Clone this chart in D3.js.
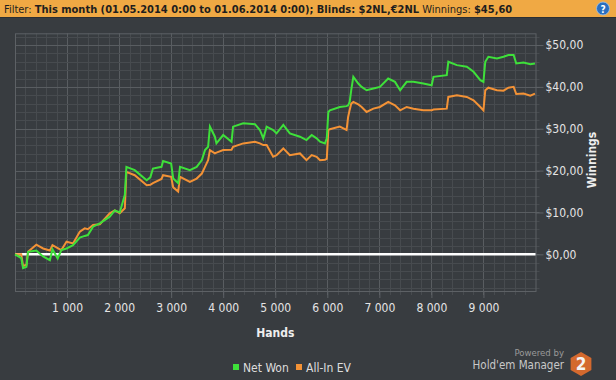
<!DOCTYPE html>
<html>
<head>
<meta charset="utf-8">
<script src="https://cdn.jsdelivr.net/npm/d3@7"></script>
<style>
  body { margin: 0; background: #383c40; }
  svg { display: block; }
  text { font-family: "DejaVu Sans Condensed", "DejaVu Sans", sans-serif; font-stretch: condensed; }
</style>
</head>
<body>
<div id="chart"></div>
<script>
// データ
var hands = [0, 120, 155, 220, 250, 410, 540, 670, 720, 820, 890, 990, 1115, 1245, 1340, 1400, 1500, 1630, 1820, 1917,
    2013, 2110, 2140, 2300, 2530, 2600, 2650, 2815, 2845, 3000, 3040, 3135, 3170, 3360, 3490, 3590, 3650, 3710, 3745, 3840,
    3870, 4000, 4160, 4190, 4385, 4610, 4705, 4770, 4835, 4960, 5025, 5155, 5280, 5475, 5600, 5700, 5795, 5860, 5955, 5990,
    6020, 6050, 6240, 6370, 6400, 6430, 6460, 6500, 6595, 6660, 6755, 6885, 7010, 7170, 7300, 7400, 7525, 7655, 7845, 8005,
    8040, 8295, 8325, 8490, 8680, 8810, 8940, 9000, 9035, 9095, 9260, 9385, 9480, 9580, 9630, 9770, 9900, 9990];
var netWon = [0, -0.9, -3.3, -3.0, 0.6, 0.9, -0.5, -1.4, 1.2, -1.0, 1.0, 1.4, 2.2, 4.0, 4.4, 4.6, 6.6, 7.4, 9.0, 10.5,
    10.0, 14.2, 20.9, 20.1, 17.7, 18.4, 20.5, 20.9, 22.3, 21.7, 18.1, 17.0, 20.9, 20.1, 20.9, 22.5, 24.9, 25.7, 30.5, 28.1,
    26.5, 28.5, 26.9, 30.5, 31.3, 31.1, 29.7, 27.7, 30.5, 29.7, 28.9, 30.9, 28.9, 28.1, 27.3, 28.5, 27.7, 26.9, 26.5, 27.7,
    34.0, 34.4, 35.2, 35.4, 35.6, 36.4, 39.2, 42.4, 40.8, 40.0, 39.2, 39.6, 40.0, 42.0, 41.2, 39.2, 41.2, 41.2, 40.8, 40.4,
    42.4, 42.8, 46.0, 45.2, 44.8, 43.6, 41.6, 41.2, 46.0, 47.2, 46.8, 47.2, 47.6, 47.6, 45.6, 45.8, 45.4, 45.6];
var allInEV = [0, 0, -2.8, -2.5, 0.6, 2.3, 1.4, 0.9, 2.2, 1.5, 1.0, 3.0, 2.6, 5.4, 6.2, 6.0, 7.0, 7.2, 9.8, 10.5,
    9.8, 11.0, 19.7, 18.9, 16.5, 16.6, 17.0, 18.0, 18.9, 18.5, 16.0, 15.0, 18.5, 17.3, 18.1, 19.3, 20.9, 22.5, 24.9, 24.1,
    24.3, 24.9, 25.0, 25.7, 26.5, 26.9, 26.5, 26.1, 26.1, 23.3, 23.7, 25.3, 23.7, 24.1, 22.5, 23.7, 23.3, 22.5, 22.6, 22.8,
    29.7, 29.9, 30.5, 29.7, 32.8, 34.5, 36.0, 36.4, 35.8, 35.2, 34.0, 34.8, 35.2, 36.4, 35.6, 34.4, 35.2, 34.8, 34.4, 34.4,
    34.6, 34.8, 37.6, 38.0, 37.6, 36.8, 35.2, 34.4, 39.2, 39.8, 39.2, 39.1, 39.8, 40.0, 38.3, 38.4, 37.9, 38.4];
var xTicks = [1000, 2000, 3000, 4000, 5000, 6000, 7000, 8000, 9000];
var yTicks = [0, 10, 20, 30, 40, 50];
var seriesNames = ["Net Won", "All-In EV"];
var seriesColors = ["#3ee03a", "#f39236"];

var width = 616;
var height = 380;
var plot = { left: 15, right: 535.5, top: 33.3, bottom: 291 };

var svg = d3.select("#chart")
    .append("svg")
    .attr("width", width)
    .attr("height", height);

svg.append("rect")
    .attr("width", width)
    .attr("height", height)
    .attr("fill", "#383c40");

// フィルターバー
svg.append("rect")
    .attr("width", width)
    .attr("height", 17)
    .attr("fill", "#f0a944");
svg.append("rect")
    .attr("y", 17)
    .attr("width", width)
    .attr("height", 1)
    .attr("fill", "#2c2f32");

var filter = svg.append("text")
    .attr("x", 4)
    .attr("y", 12.5)
    .style("font-size", "11px")
    .attr("fill", "#1e1e1e");
filter.append("tspan").text("Filter: ");
filter.append("tspan").style("font-weight", "bold").text("This month (01.05.2014 0:00 to 01.06.2014 0:00); Blinds: $2NL,€2NL");
filter.append("tspan").text(" Winnings: ");
filter.append("tspan").style("font-weight", "bold").text("$45,60");

var help = svg.append("g").attr("transform", "translate(603,8.5)");
help.append("circle").attr("r", 6.5).attr("fill", "#2a6fc0").attr("stroke", "#9cc3ee").attr("stroke-width", 0.8);
help.append("text")
    .attr("y", 4)
    .attr("text-anchor", "middle")
    .style("font-size", "10px")
    .style("font-weight", "bold")
    .attr("fill", "#fff")
    .text("?");

// スケール
var xScale = d3.scaleLinear()
    .domain([0, 10000])
    .range([plot.left, plot.right]);
var yScale = d3.scaleLinear()
    .domain([-8.76, 52.8])
    .range([plot.bottom, plot.top]);

// グリッド
var grid = svg.append("g");
grid.selectAll("line.vx")
    .data(d3.range(200, 10000, 200))
    .enter()
    .append("line")
    .attr("x1", function (d) { return Math.round(xScale(d)) + 0.5; })
    .attr("x2", function (d) { return Math.round(xScale(d)) + 0.5; })
    .attr("y1", plot.top)
    .attr("y2", plot.bottom + 4)
    .attr("stroke", function (d) { return d % 1000 == 0 ? "#595d61" : "#474b4f"; })
    .attr("stroke-width", 1);
grid.selectAll("line.hy")
    .data(d3.range(-8, 53, 2))
    .enter()
    .append("line")
    .attr("x1", plot.left)
    .attr("x2", plot.right + 4)
    .attr("y1", function (d) { return Math.round(yScale(d)) + 0.5; })
    .attr("y2", function (d) { return Math.round(yScale(d)) + 0.5; })
    .attr("stroke", function (d) { return d % 10 == 0 ? "#595d61" : "#474b4f"; })
    .attr("stroke-width", 1);

svg.append("rect")
    .attr("x", plot.left + 0.5)
    .attr("y", plot.top + 0.5)
    .attr("width", plot.right - plot.left)
    .attr("height", plot.bottom - plot.top)
    .attr("fill", "none")
    .attr("stroke", "#5d6165");

// X 軸
var xAxis = d3.axisBottom(xScale)
    .tickValues(xTicks)
    .tickSize(7)
    .tickFormat(function (d) { return d3.format(",")(d).replace(/,/g, " "); });
var gx = svg.append("g")
    .attr("transform", "translate(0," + plot.bottom + ")")
    .call(xAxis);
gx.select(".domain").remove();
gx.selectAll(".tick line").attr("stroke", "#5d6165");
gx.selectAll(".tick text")
    .attr("y", 12)
    .style("font-size", "12px")
    .attr("fill", "#e4e4e4");

// Y 軸
var yAxis = d3.axisRight(yScale)
    .tickValues(yTicks)
    .tickSize(8)
    .tickFormat(function (d) { return "$" + d3.format(".2f")(d).replace(".", ","); });
var gy = svg.append("g")
    .attr("transform", "translate(" + plot.right + ",0)")
    .call(yAxis);
gy.select(".domain").remove();
gy.selectAll(".tick line").attr("stroke", "#5d6165");
gy.selectAll(".tick text")
    .attr("x", 10)
    .style("font-size", "12px")
    .attr("fill", "#e4e4e4");

svg.append("text")
    .attr("x", (plot.left + plot.right) / 2)
    .attr("y", 337)
    .attr("text-anchor", "middle")
    .style("font-size", "12px")
    .style("font-weight", "bold")
    .attr("fill", "#eeeeee")
    .text("Hands");

svg.append("text")
    .attr("transform", "translate(596,160) rotate(-90)")
    .attr("text-anchor", "middle")
    .style("font-size", "12px")
    .style("font-weight", "bold")
    .attr("fill", "#eeeeee")
    .text("Winnings");

// ゼロライン
svg.append("line")
    .attr("x1", plot.left)
    .attr("x2", plot.right)
    .attr("y1", yScale(0))
    .attr("y2", yScale(0))
    .attr("stroke", "#ffffff")
    .attr("stroke-width", 2.5);

// 折れ線
var series = [allInEV, netWon];
var colors = [seriesColors[1], seriesColors[0]];
var line = d3.line()
    .x(function (d, i) { return xScale(hands[i]); })
    .y(function (d) { return yScale(d); });
svg.append("g")
    .selectAll("path")
    .data(series)
    .enter()
    .append("path")
    .attr("d", function (d) { return line(d); })
    .attr("fill", "none")
    .attr("stroke", function (d, i) { return colors[i]; })
    .attr("stroke-width", 2)
    .attr("stroke-linejoin", "miter");

// 凡例
var legendX = [233, 296];
var legend = svg.append("g")
    .selectAll("g")
    .data(seriesNames)
    .enter()
    .append("g")
    .attr("transform", function (d, i) { return "translate(" + legendX[i] + ",364)"; });
legend.append("rect")
    .attr("width", 6)
    .attr("height", 6)
    .attr("fill", function (d, i) { return seriesColors[i]; });
legend.append("text")
    .attr("x", 10)
    .attr("y", 8)
    .style("font-size", "12px")
    .attr("fill", "#dddddd")
    .text(function (d) { return d; });

// ロゴ
svg.append("text")
    .attr("x", 564)
    .attr("y", 356)
    .attr("text-anchor", "end")
    .style("font-size", "9.5px")
    .attr("fill", "#9a9a9a")
    .text("Powered by");
svg.append("text")
    .attr("x", 564)
    .attr("y", 369)
    .attr("text-anchor", "end")
    .style("font-size", "11.5px")
    .attr("fill", "#c8c8c8")
    .text("Hold'em Manager");
var hex = d3.range(6).map(function (i) {
    var a = Math.PI / 3 * i - Math.PI / 2;
    return [581 + 12 * Math.cos(a), 364 + 12 * Math.sin(a)];
});
svg.append("polygon")
    .attr("points", hex.map(function (p) { return p.join(","); }).join(" "))
    .attr("fill", "#d4692e");
svg.append("text")
    .attr("x", 581)
    .attr("y", 370)
    .attr("text-anchor", "middle")
    .style("font-size", "17px")
    .style("font-weight", "bold")
    .attr("fill", "#f4f4f4")
    .text("2");
</script>
</body>
</html>
